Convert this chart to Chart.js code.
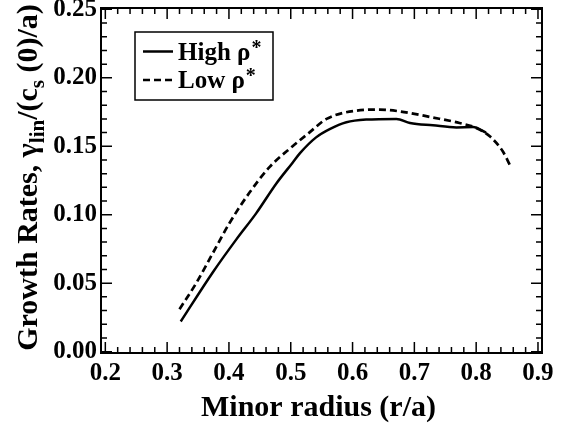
<!DOCTYPE html>
<html>
<head>
<meta charset="utf-8">
<script src="https://cdn.jsdelivr.net/npm/chart.js@4.4.1/dist/chart.umd.min.js"></script>
<style>
html, body { margin: 0; padding: 0; background: #fff; }
#wrap { width: 567px; height: 424px; }
</style>
</head>
<body>
<div id="wrap"><canvas id="myChart-1" width="567" height="424"></canvas></div>
<script>
// High rho* (solid)
var high_x = [0.322, 0.374, 0.412, 0.444, 0.477, 0.503, 0.515, 0.541, 0.563, 0.590, 0.622, 0.671, 0.693, 0.730, 0.768, 0.795, 0.816];
var high_y = [0.022, 0.058, 0.082, 0.101, 0.123, 0.138, 0.145, 0.1565, 0.1625, 0.1675, 0.1695, 0.170, 0.167, 0.1653, 0.1638, 0.164, 0.160];
// Low rho* (dashed)
var low_x = [0.320, 0.347, 0.374, 0.401, 0.433, 0.466, 0.503, 0.530, 0.558, 0.606, 0.644, 0.676, 0.730, 0.773, 0.800, 0.822, 0.843, 0.857];
var low_y = [0.031, 0.050, 0.072, 0.094, 0.116, 0.135, 0.150, 0.160, 0.170, 0.176, 0.1768, 0.1755, 0.171, 0.167, 0.1634, 0.1573, 0.1463, 0.134];

var x_ticks = [0.2, 0.3, 0.4, 0.5, 0.6, 0.7, 0.8, 0.9];
var y_ticks = [0.00, 0.05, 0.10, 0.15, 0.20, 0.25];
var series_labels = ['High ρ*', 'Low ρ*'];

var serif = '"Liberation Serif", "Times New Roman", serif';

function pts(xs, ys) {
    return xs.map(function (x, i) { return { x: x, y: ys[i] }; });
}

// frame, inward ticks, titles and legend
var decor = {
    id: 'decor',
    afterDraw: function (chart) {
        var ctx = chart.ctx, a = chart.chartArea;
        var xs = chart.scales.x, ys = chart.scales.y;
        ctx.save();
        ctx.strokeStyle = '#000';
        ctx.fillStyle = '#000';

        ctx.lineWidth = 2;
        ctx.strokeRect(a.left, a.top, a.right - a.left, a.bottom - a.top);

        ctx.lineWidth = 1.5;
        ctx.beginPath();
        var i, p, len;
        for (i = 0; i <= 35; i++) {
            p = xs.getPixelForValue(x_ticks[0] + i * 0.02);
            len = (i % 5 === 0) ? 11 : 6;
            ctx.moveTo(p, a.bottom); ctx.lineTo(p, a.bottom - len);
            ctx.moveTo(p, a.top); ctx.lineTo(p, a.top + len);
        }
        for (i = 0; i <= 25; i++) {
            p = ys.getPixelForValue(y_ticks[0] + i * 0.01);
            len = (i % 5 === 0) ? 11 : 6;
            ctx.moveTo(a.left, p); ctx.lineTo(a.left + len, p);
            ctx.moveTo(a.right, p); ctx.lineTo(a.right - len, p);
        }
        ctx.stroke();

        // x title
        ctx.font = 'bold 30px ' + serif;
        ctx.textAlign = 'center';
        ctx.textBaseline = 'alphabetic';
        ctx.fillText('Minor radius (r/a)', (a.left + a.right) / 2 - 3, 416);

        // y title with subscripts
        var parts = [
            ['Growth Rates, γ', 0], ['lin', 1], ['/(c', 0], ['s', 1], [' (0)/a)', 0]
        ];
        var big = 'bold 30px ' + serif, small = 'bold 21px ' + serif;
        var total = 0;
        parts.forEach(function (s) {
            ctx.font = s[1] ? small : big;
            total += ctx.measureText(s[0]).width;
        });
        ctx.save();
        ctx.translate(37, (a.top + a.bottom) / 2 - 3);
        ctx.rotate(-Math.PI / 2);
        ctx.textAlign = 'left';
        var cx = -total / 2;
        parts.forEach(function (s) {
            ctx.font = s[1] ? small : big;
            ctx.fillText(s[0], cx, s[1] ? 7 : 0);
            cx += ctx.measureText(s[0]).width;
        });
        ctx.restore();

        // legend
        var bx = a.left + 34, by = a.top + 24, bw = 138, bh = 68;
        ctx.lineWidth = 1.5;
        ctx.strokeRect(bx, by, bw, bh);
        chart.data.datasets.forEach(function (ds, k) {
            var ly = by + 19.5 + k * 28.5;
            ctx.save();
            ctx.lineWidth = ds.borderWidth;
            ctx.setLineDash(ds.borderDash || []);
            ctx.beginPath();
            ctx.moveTo(bx + 8, ly); ctx.lineTo(bx + 38, ly);
            ctx.stroke();
            ctx.restore();
            var txt = ds.label.replace('*', '');
            ctx.font = 'bold 25px ' + serif;
            ctx.textAlign = 'left';
            ctx.fillText(txt, bx + 43, ly + 8);
            var w = ctx.measureText(txt).width;
            ctx.font = 'bold 20px ' + serif;
            ctx.fillText('*', bx + 43 + w + 1, ly + 2);
        });
        ctx.restore();
    }
};

var myChart_1 = document.getElementById('myChart-1').getContext('2d');
var chart = new Chart(myChart_1, {
    type: 'line',
    data: {
        datasets: [{
            label: series_labels[0],
            data: pts(high_x, high_y),
            borderColor: '#000',
            borderWidth: 2.5,
            cubicInterpolationMode: 'monotone',
            pointRadius: 0,
            fill: false
        }, {
            label: series_labels[1],
            data: pts(low_x, low_y),
            borderColor: '#000',
            borderWidth: 2.7,
            borderDash: [7, 4],
            cubicInterpolationMode: 'monotone',
            pointRadius: 0,
            fill: false
        }]
    },
    options: {
        responsive: false,
        animation: false,
        layout: { padding: { top: 8, right: 25, left: 0, bottom: 0 } },
        plugins: {
            legend: { display: false },
            tooltip: { enabled: false }
        },
        scales: {
            x: {
                type: 'linear',
                min: 0.193,
                max: 0.9065,
                grid: { display: false, drawTicks: false, tickLength: 0 },
                border: { display: false },
                afterBuildTicks: function (scale) {
                    scale.ticks = x_ticks.map(function (v) { return { value: v }; });
                },
                afterFit: function (scale) {
                    scale.height = 71;
                    scale.paddingLeft = 0;
                    scale.paddingRight = 0;
                },
                ticks: {
                    color: '#000',
                    padding: 6,
                    maxRotation: 0,
                    autoSkip: false,
                    font: { family: serif, size: 25, weight: 'bold' },
                    callback: function (value) { return value.toFixed(1); }
                }
            },
            y: {
                min: -0.001,
                max: 0.251,
                grid: { display: false, drawTicks: false, tickLength: 0 },
                border: { display: false },
                afterBuildTicks: function (scale) {
                    scale.ticks = y_ticks.map(function (v) { return { value: v }; });
                },
                afterFit: function (scale) {
                    scale.width = 101;
                    scale.paddingTop = 0;
                    scale.paddingBottom = 0;
                },
                ticks: {
                    color: '#000',
                    padding: 4,
                    autoSkip: false,
                    font: { family: serif, size: 25, weight: 'bold' },
                    callback: function (value) { return value.toFixed(2); }
                }
            }
        }
    },
    plugins: [decor]
});
</script>
</body>
</html>
